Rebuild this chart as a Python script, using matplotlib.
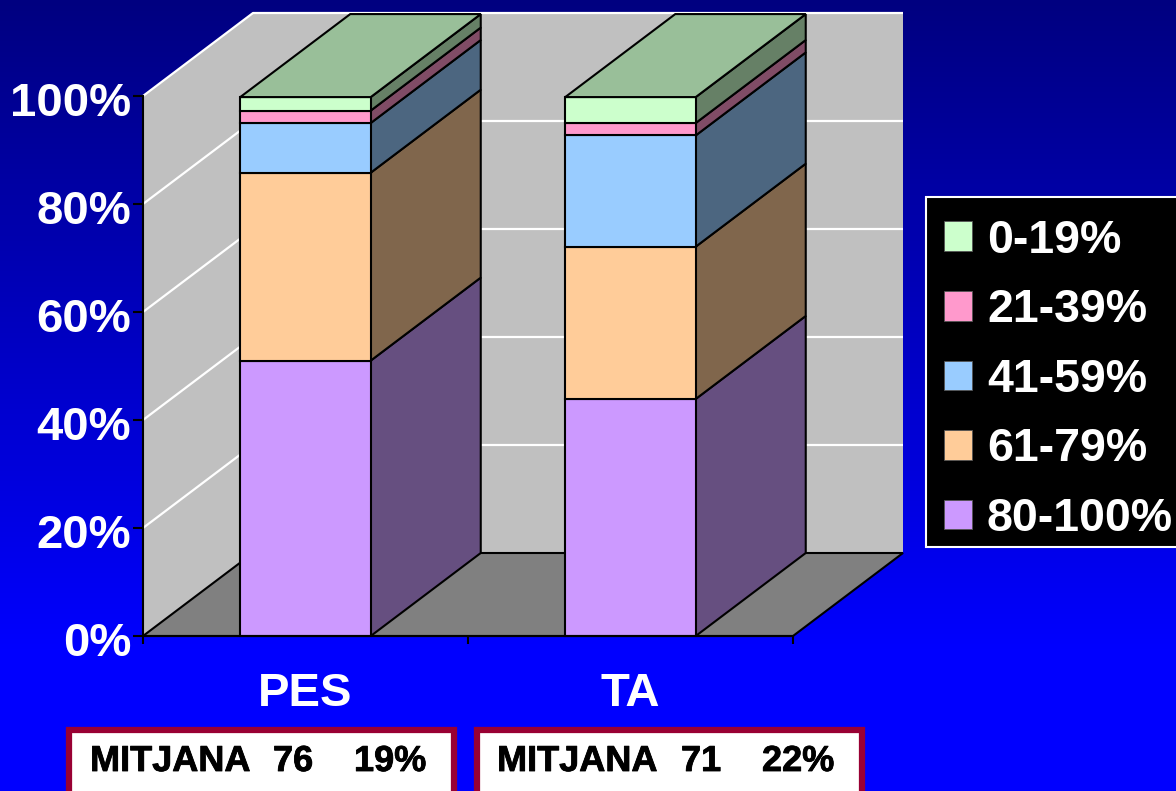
import numpy as np
import matplotlib
matplotlib.use('Agg')
import matplotlib.pyplot as plt
from matplotlib.patches import Polygon, Rectangle
from matplotlib.transforms import ScaledTranslation
import matplotlib.patheffects as pe

plt.rcParams['font.family'] = ['Liberation Sans', 'DejaVu Sans']
plt.rcParams['font.weight'] = 'bold'

categories = ['PES', 'TA']
bands = ['80-100%', '61-79%', '41-59%', '21-39%', '0-19%']
pes_values = [51.0, 34.8, 9.2, 2.3, 2.5]
ta_values = [43.9, 28.2, 20.6, 2.3, 4.8]
band_colors = ['#cc99ff', '#ffcc99', '#99ccff', '#ff99cc', '#ccffcc']
side_colors = ['#664f80', '#80664c', '#4c6680', '#804c66', '#668066']
top_color = '#99bf99'
y_ticks = [0, 20, 40, 60, 80, 100]
notes = [('MITJANA', '76', '19%'), ('MITJANA', '71', '22%')]

W, H = 1176, 791
DX = 110 / 325   # depth of the 3d box in category units
DY = 83 / 5.4    # depth in percent units
BAR = 0.4015
LW = 1.5

fig = plt.figure(figsize=(W / 100, H / 100), dpi=100)

# background and annotations, in pixels
bg = fig.add_axes([0, 0, 1, 1], zorder=0)
grad = np.linspace(128, 255, 650).reshape(-1, 1) / 255
img = np.dstack([np.zeros_like(grad), np.zeros_like(grad), grad])
bg.imshow(img, extent=[0, W, 650, 0], aspect='auto', interpolation='bilinear')
bg.add_patch(Rectangle((0, 650), W, H - 650, color='#0000ff', lw=0))
bg.set_xlim(0, W)
bg.set_ylim(H, 0)
bg.axis('off')

boxes = [(69, 385), (477, 385)]
text_x = [(90, 273, 354), (497, 681, 762)]
for (x0, w), xs, note in zip(boxes, text_x, notes):
    bg.add_patch(Rectangle((x0, 730), w, 80, facecolor='white', edgecolor='#990033', lw=4.5))
    for x, s in zip(xs, note):
        bg.text(x, 771, s, fontsize=26, color='black', ha='left', va='baseline',
                path_effects=[pe.withStroke(linewidth=0.6, foreground='black')])

# legend frame
bg.add_patch(Rectangle((925.5, 196.5), 270, 350, facecolor='black', edgecolor='white', lw=1.5))

# chart, front plane of the 3d box
ax = fig.add_axes([143 / W, (H - 636) / H, 650 / W, 540 / H], zorder=1)
ax.set_xlim(0, 2)
ax.set_ylim(0, 100)
ax.patch.set_visible(False)

ax.add_patch(Polygon([(0, 0), (DX, DY), (DX, 100 + DY), (0, 100)], facecolor='#c0c0c0', lw=0, clip_on=False, zorder=1))
ax.add_patch(Polygon([(DX, DY), (2 + DX, DY), (2 + DX, 100 + DY), (DX, 100 + DY)], facecolor='#c0c0c0', lw=0, clip_on=False, zorder=1))
ax.add_patch(Polygon([(0, 0), (2, 0), (2 + DX, DY), (DX, DY)], facecolor='#808080', edgecolor='black', lw=LW, clip_on=False, zorder=1))

for t in y_ticks[1:]:
    ax.plot([0, DX, 2 + DX], [t, t + DY, t + DY], color='white', lw=1.6, clip_on=False,
            zorder=2, solid_capstyle='butt')

for i, vals in enumerate([pes_values, ta_values]):
    x0 = i + 0.5 - BAR / 2
    x1 = x0 + BAR
    base = 0
    for v, c, s in zip(vals, band_colors, side_colors):
        top = base + v
        ax.add_patch(Polygon([(x1, base), (x1 + DX, base + DY), (x1 + DX, top + DY), (x1, top)],
                             facecolor=s, edgecolor='black', lw=LW, clip_on=False, zorder=3))
        ax.add_patch(Polygon([(x0, base), (x1, base), (x1, top), (x0, top)],
                             facecolor=c, edgecolor='black', lw=LW, clip_on=False, zorder=4))
        base = top
    ax.add_patch(Polygon([(x0, base), (x1, base), (x1 + DX, base + DY), (x0 + DX, base + DY)],
                         facecolor=top_color, edgecolor='black', lw=LW, clip_on=False, zorder=4))

for s in ['top', 'right']:
    ax.spines[s].set_visible(False)
for s in ['left', 'bottom']:
    ax.spines[s].set_linewidth(1.5)
    ax.spines[s].set_zorder(6)

ax.set_yticks(y_ticks)
ax.set_yticklabels([f'{t}%' for t in y_ticks], fontsize=34, color='white')
ax.tick_params(axis='y', length=7, width=1.5, pad=1.5)
shift = ScaledTranslation(0, -3 / 100, fig.dpi_scale_trans)
for lab in ax.get_yticklabels():
    lab.set_transform(lab.get_transform() + shift)
ax.set_xticks([0, 1, 2])
ax.set_xticklabels([])
ax.tick_params(axis='x', which='major', length=6, width=1.5)
ax.set_xticks([0.5, 1.5], minor=True)
ax.set_xticklabels(categories, minor=True, fontsize=34, color='white')
ax.tick_params(axis='x', which='minor', length=0, pad=26)

handles = [Rectangle((0, 0), 1, 1, facecolor=c, edgecolor='#555555', lw=0.6) for c in band_colors[::-1]]
leg = ax.legend(handles, bands[::-1], loc='upper left', bbox_to_anchor=(925, 200),
                bbox_transform=bg.transData, borderaxespad=0, fontsize=33.5,
                labelcolor='white', frameon=False, handlelength=0.6, handleheight=0.6,
                handletextpad=0.33, labelspacing=0.55, borderpad=0.4)
leg.set_zorder(10)

fig.savefig('out.png', dpi=100)
